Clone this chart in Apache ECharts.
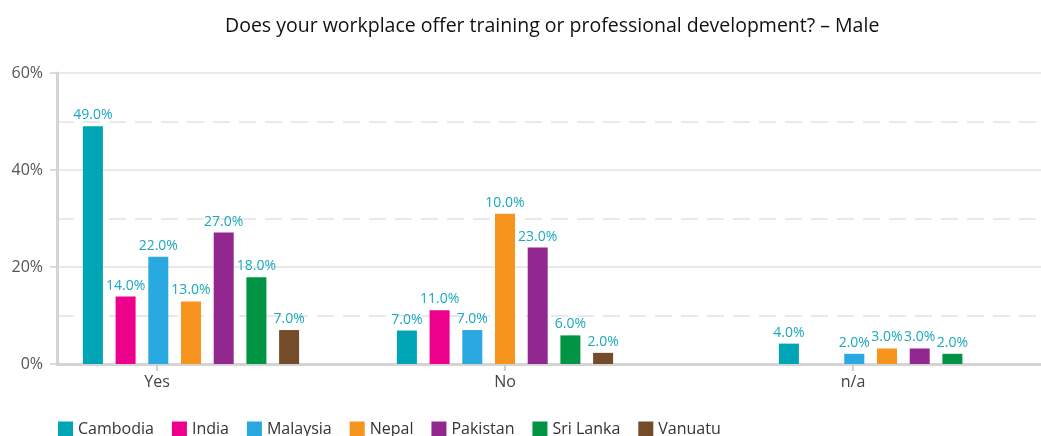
<!DOCTYPE html>
<html>
<head>
<meta charset="utf-8">
<script src="https://cdn.jsdelivr.net/npm/echarts@6/dist/echarts.min.js"></script>
<style>
html, body { margin: 0; padding: 0; background: #fff; }
#chart { width: 1041px; height: 436px; }
</style>
</head>
<body>
<div id="chart"></div>
<script>
// categories and countries
var categories = ['Yes', 'No', 'n/a'];
var countries = ['Cambodia', 'India', 'Malaysia', 'Nepal', 'Pakistan', 'Sri Lanka', 'Vanuatu'];
var yTicks = [0, 20, 40, 60];

// bar heights (%) as drawn
var cambodia = [49, 6.9, 4.2];
var india = [13.9, 11.1, null];
var malaysia = [22.1, 7, 2.1];
var nepal = [12.9, 31, 3.2];
var pakistan = [27.1, 24, 3.2];
var sriLanka = [17.9, 5.9, 2.1];
var vanuatu = [7, 2.3, null];

// printed labels (%)
var cambodiaLbl = [49, 7, 4];
var indiaLbl = [14, 11, null];
var malaysiaLbl = [22, 7, 2];
var nepalLbl = [13, 10, 3];
var pakistanLbl = [27, 23, 3];
var sriLankaLbl = [18, 6, 2];
var vanuatuLbl = [7, 2, null];

var values = [cambodia, india, malaysia, nepal, pakistan, sriLanka, vanuatu];
var labels = [cambodiaLbl, indiaLbl, malaysiaLbl, nepalLbl, pakistanLbl, sriLankaLbl, vanuatuLbl];
var colors = ['#00a5b5', '#ec008c', '#29a9e0', '#f7941d', '#92278f', '#009444', '#754c29'];

var FONT = '"Open Sans", sans-serif';
var BAR_W = 20, PITCH = 32.7;
var groupShift = [34, 0, 34];

var myChart = echarts.init(document.getElementById('chart'));

var series = countries.map(function (name, s) {
    var data = [];
    categories.forEach(function (c, i) {
        if (values[s][i] != null) data.push([i, values[s][i], labels[s][i]]);
    });
    return {
        name: name,
        type: 'custom',
        xAxisIndex: 1,
        yAxisIndex: 1,
        itemStyle: { color: colors[s] },
        encode: { x: 0, y: 1 },
        data: data,
        renderItem: function (params, api) {
            var ci = api.value(0);
            var base = api.coord([ci, 0]);
            var top = api.coord([ci, api.value(1)]);
            var cx = base[0] + (s - 3) * PITCH + groupShift[ci];
            return {
                type: 'group',
                children: [{
                    type: 'rect',
                    shape: { x: cx - BAR_W / 2, y: top[1], width: BAR_W, height: base[1] - top[1] },
                    style: { fill: colors[s] }
                }, {
                    type: 'text',
                    style: {
                        text: api.value(2).toFixed(1) + '%',
                        x: cx, y: top[1] - 4,
                        align: 'center', verticalAlign: 'bottom',
                        fill: '#19a9bd', font: '14px ' + FONT
                    }
                }]
            };
        }
    };
});

var option = {
    animation: false,
    title: {
        text: 'Does your workplace offer training or professional development? \u2013 Male',
        left: 220, top: 11,
        textStyle: { fontFamily: FONT, fontSize: 19.5, fontWeight: 'normal', color: '#111' }
    },
    legend: {
        data: countries,
        left: 58, top: 421, padding: 0,
        icon: 'rect', itemWidth: 15, itemHeight: 15, itemGap: 18,
        textStyle: { fontFamily: FONT, fontSize: 16, color: '#333' }
    },
    grid: [
        { left: 57, right: 0, top: 73, bottom: 72, outerBoundsMode: 'none' },
        { left: -17, right: 14, top: 73, bottom: 72, outerBoundsMode: 'none' }
    ],
    xAxis: [{
        type: 'category', gridIndex: 0, data: categories,
        axisLine: { lineStyle: { color: '#d4d4d4', width: 3 } },
        axisTick: { show: false }, axisLabel: { show: false }
    }, {
        type: 'category', gridIndex: 1, data: categories,
        axisLine: { show: false },
        axisTick: { show: true, alignWithLabel: true, length: 7, lineStyle: { color: '#cfcfcf', width: 2 } },
        axisLabel: { margin: 10, fontFamily: FONT, fontSize: 16, color: '#444' }
    }],
    yAxis: [{
        type: 'value', gridIndex: 0, min: yTicks[0], max: yTicks[yTicks.length - 1], interval: 20,
        axisLine: { show: true, lineStyle: { color: '#d4d4d4', width: 3 } },
        axisTick: { show: true, length: 7, lineStyle: { color: '#cfcfcf', width: 1.5 } },
        axisLabel: { formatter: '{value}%', margin: 14, fontFamily: FONT, fontSize: 16, color: '#555' },
        splitLine: { lineStyle: { color: '#e2e2e2', width: 1.5 } },
        minorTick: { show: false, splitNumber: 2 },
        minorSplitLine: { show: true, lineStyle: { color: '#e2e2e2', width: 1.5, type: [17, 9] } }
    }, {
        type: 'value', gridIndex: 1, min: yTicks[0], max: yTicks[yTicks.length - 1], interval: 20,
        show: false, splitLine: { show: false }
    }],
    series: series
};
myChart.setOption(option);
</script>
</body>
</html>
